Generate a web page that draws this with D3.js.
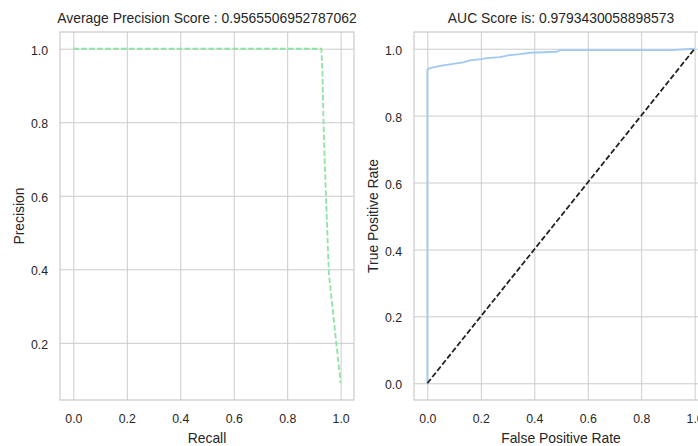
<!DOCTYPE html>
<html><head><meta charset="utf-8">
<script src="https://cdn.jsdelivr.net/npm/d3@7/dist/d3.min.js"></script>
<style>
body{margin:0;background:#fff;}
text{font-family:"Liberation Sans",Arial,sans-serif;fill:#262626;}
</style>
</head><body>
<svg id="c" width="698" height="446"></svg>
<script>
// ---- data ----
const prRecall    = [0.0, 0.25, 0.5, 0.75, 0.928, 0.932, 0.936, 0.940, 0.956, 0.984, 1.0];
const prPrecision = [1.0, 1.0, 1.0, 1.0, 1.0, 0.934, 0.80, 0.70, 0.388, 0.198, 0.09];
const rocFpr = [0.0, 0.0, 0.010, 0.048, 0.097, 0.134, 0.159, 0.203, 0.221, 0.271, 0.309, 0.346, 0.384, 0.484, 0.496, 0.91, 1.0];
const rocTpr = [0.0, 0.938, 0.942, 0.949, 0.955, 0.959, 0.965, 0.969, 0.972, 0.975, 0.981, 0.984, 0.988, 0.991, 0.996, 0.996, 1.0];
const diagX = [0, 1];
const diagY = [0, 1];
const xTicks = [0.0, 0.2, 0.4, 0.6, 0.8, 1.0];
const prYTicks = [0.2, 0.4, 0.6, 0.8, 1.0];
const rocYTicks = [0.0, 0.2, 0.4, 0.6, 0.8, 1.0];
const titles = ["Average Precision Score : 0.9565506952787062", "AUC Score is: 0.9793430058898573"];
const xLabels = ["Recall", "False Positive Rate"];
const yLabels = ["Precision", "True Positive Rate"];

// ---- drawing ----
const svg = d3.select("#c");
const fmt = d3.format(".1f");
function padded(vals){
  const [a,b] = d3.extent(vals); const m = (b-a)*0.05; return [a-m, b+m];
}
const panels = [
  {x:60, y:32, w:294, h:368, series:[{xs:prRecall, ys:prPrecision, color:"#8de5a1", dash:"5.55,2.4", lw:1.8}],
   xd:padded(prRecall), yd:padded(prPrecision), yt:prYTicks},
  {x:414, y:32, w:294, h:368, series:[{xs:rocFpr, ys:rocTpr, color:"#a1c9f4", dash:null, lw:1.8},
                                       {xs:diagX, ys:diagY, color:"#222222", dash:"5.55,2.4", lw:1.8}],
   xd:padded(rocFpr), yd:padded(rocTpr), yt:rocYTicks}
];
panels.forEach((p,i)=>{
  const g = svg.append("g").attr("transform",`translate(${p.x},${p.y})`);
  const x = d3.scaleLinear().domain(p.xd).range([0,p.w]);
  const y = d3.scaleLinear().domain(p.yd).range([p.h,0]);
  svg.append("clipPath").attr("id","clip"+i).append("rect").attr("width",p.w).attr("height",p.h);
  // grid
  g.append("g").attr("class","grid")
    .call(d3.axisBottom(x).tickValues(xTicks).tickSize(p.h).tickFormat(""))
    .call(s=>s.select(".domain").remove())
    .call(s=>s.selectAll("line").attr("stroke","#cccccc").attr("stroke-width",1));
  g.append("g").attr("class","grid")
    .call(d3.axisLeft(y).tickValues(p.yt).tickSize(-p.w).tickFormat(""))
    .call(s=>s.select(".domain").remove())
    .call(s=>s.selectAll("line").attr("stroke","#cccccc").attr("stroke-width",1));
  // tick labels
  g.append("g").attr("transform",`translate(0,${p.h})`)
    .call(d3.axisBottom(x).tickValues(xTicks).tickSize(0).tickPadding(14).tickFormat(fmt))
    .call(s=>s.select(".domain").remove())
    .call(s=>s.selectAll("text").attr("font-size","12.3px").attr("fill","#262626").attr("font-family",'"Liberation Sans",Arial,sans-serif'));
  g.append("g")
    .call(d3.axisLeft(y).tickValues(p.yt).tickSize(0).tickPadding(12).tickFormat(fmt))
    .call(s=>s.select(".domain").remove())
    .call(s=>s.selectAll("text").attr("font-size","12.3px").attr("fill","#262626").attr("dy","0.45em").attr("font-family",'"Liberation Sans",Arial,sans-serif'));
  // lines
  const lg = g.append("g").attr("clip-path",`url(#clip${i})`);
  p.series.forEach(s=>{
    const line = d3.line().x(d=>x(s.xs[d])).y(d=>y(s.ys[d]));
    lg.append("path").attr("d",line(d3.range(s.xs.length)))
      .attr("fill","none").attr("stroke",s.color).attr("stroke-width",s.lw)
      .attr("stroke-dasharray",s.dash).attr("stroke-linejoin","round");
  });
  // frame
  g.append("rect").attr("width",p.w).attr("height",p.h).attr("fill","none")
    .attr("stroke","#cccccc").attr("stroke-width",1.25);
  // title & labels
  g.append("text").attr("x",p.w/2).attr("y",-9).attr("text-anchor","middle")
    .attr("font-size","13.9px").text(titles[i]);
  g.append("text").attr("x",p.w/2).attr("y",p.h+43).attr("text-anchor","middle")
    .attr("font-size","13.9px").text(xLabels[i]);
  g.append("text").attr("transform",`translate(-36,${p.h/2}) rotate(-90)`)
    .attr("text-anchor","middle").attr("font-size","13.9px").text(yLabels[i]);
});
</script>
</body></html>
